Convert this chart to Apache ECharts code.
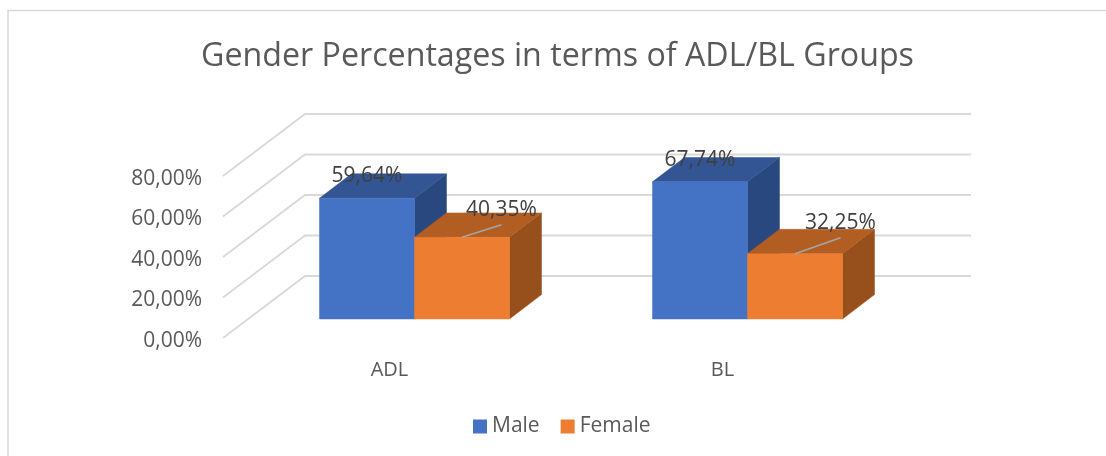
<!DOCTYPE html>
<html>
<head>
<meta charset="utf-8">
<style>html,body{margin:0;padding:0;background:#fff}#c{width:1106px;height:456px}</style>
<script src="https://cdn.jsdelivr.net/npm/echarts@6/dist/echarts.min.js"></script>
</head>
<body>
<div id="c"></div>
<script>
const categories = ['ADL', 'BL'];
const male = [59.64, 67.74];
const female = [40.35, 32.25];
const yTicks = [0, 20, 40, 60, 80];

const FONT = '"Open Sans", sans-serif';
const WALL = [82, -62];       // front plane to back wall
const FLOOR = [25, -19];      // front plane to the bars' front faces
const DEPTH = [32, -24.4];    // bar depth
const BAR_W = 95;
const MALE_COL = { front: '#4472c4', top: '#335593', side: '#2a4880' };
const FEMALE_COL = { front: '#ed7d31', top: '#b25d22', side: '#97501c' };
// manual label placement (relative to centre of the bar's top front edge)
const maleNudge = [[0, -22.5], [0, -22]];
const femaleNudge = [[39.5, -27.5], [45.5, -31]];

const fmt = v => v.toFixed(2).replace('.', ',') + '%';
const poly = (pts, fill) => ({ type: 'polygon', shape: { points: pts }, style: { fill: fill, stroke: fill, lineWidth: 0.5 }, silent: true });

function barRenderer(col, side, nudge, leader) {
  return function (params, api) {
    const cat = api.value(0), val = api.value(1);
    const base = api.coord([cat, 0]);
    const top = api.coord([cat, val]);
    const x0 = base[0] + FLOOR[0] + (side < 0 ? -BAR_W : 0);
    const x1 = x0 + BAR_W;
    const yb = base[1] + FLOOR[1];
    const yt = top[1] + FLOOR[1];
    const dx = DEPTH[0], dy = DEPTH[1];
    const cx = (x0 + x1) / 2;
    const n = nudge[params.dataIndex];
    const lx = cx + n[0], ly = yt + n[1];
    const children = [
      poly([[x1, yb], [x1 + dx, yb + dy], [x1 + dx, yt + dy], [x1, yt]], col.side),
      poly([[x0, yt], [x0 + dx, yt + dy], [x1 + dx, yt + dy], [x1, yt]], col.top),
      poly([[x0, yb], [x1, yb], [x1, yt], [x0, yt]], col.front)
    ];
    if (leader) {
      children.push({
        type: 'line', silent: true,
        shape: { x1: cx, y1: yt, x2: lx, y2: ly + 15 },
        style: { stroke: '#a6a6a6', lineWidth: 1.5 }
      });
    }
    children.push({
      type: 'text', silent: true,
      style: { x: lx, y: ly, text: fmt(val), fill: '#404040', font: '21px ' + FONT, align: 'center', verticalAlign: 'middle' }
    });
    return { type: 'group', children: children };
  };
}

function gridRenderer(params, api) {
  const c = params.coordSys;
  const y = api.coord([0, api.value(1)])[1];
  return {
    type: 'polyline', silent: true,
    shape: { points: [[c.x, y], [c.x + WALL[0], y + WALL[1]], [c.x + c.width + WALL[0], y + WALL[1]]] },
    style: { fill: 'none', stroke: '#d9d9d9', lineWidth: 1.8 }
  };
}

const chart = echarts.init(document.getElementById('c'), null, { renderer: 'canvas' });
chart.setOption({
  animation: false,
  backgroundColor: '#ffffff',
  title: {
    text: 'Gender Percentages in terms of ADL/BL Groups',
    left: 552.5, top: 36, textAlign: 'center',
    textStyle: { fontFamily: FONT, fontSize: 32.2, fontWeight: 'normal', color: '#595959' }
  },
  legend: {
    left: 468, top: 411,
    data: ['Male', 'Female'],
    icon: 'rect', itemWidth: 14, itemHeight: 14, itemGap: 21,
    textStyle: { fontFamily: FONT, fontSize: 21, color: '#595959' }
  },
  grid: { left: 223, right: 217, top: 176, bottom: 118, containLabel: false },
  xAxis: {
    type: 'category', data: categories,
    axisLine: { show: false }, axisTick: { show: false }, splitLine: { show: false },
    axisLabel: { margin: 22, fontFamily: FONT, fontSize: 20, color: '#595959' }
  },
  yAxis: {
    type: 'value', min: 0, max: 80, interval: 20,
    axisLine: { show: false }, axisTick: { show: false }, splitLine: { show: false },
    axisLabel: {
      margin: 21,
      formatter: v => '{a|' + v.toFixed(2).replace('.', ',') + '%}',
      rich: { a: { fontFamily: FONT, fontSize: 21, color: '#595959', padding: [6, 0, 0, 0] } }
    }
  },
  graphic: [{
    type: 'polyline', silent: true, z: -1,
    shape: { points: [[8, 456], [8, 10.5], [1106, 10.5]] },
    style: { fill: 'none', stroke: '#d9d9d9', lineWidth: 1.6 }
  }],
  series: [
    {
      type: 'custom', name: 'walls', silent: true, z: 1,
      renderItem: gridRenderer, clip: false,
      data: yTicks.map(t => [0, t])
    },
    {
      type: 'custom', name: 'Male', z: 2, clip: false,
      itemStyle: { color: MALE_COL.front },
      renderItem: barRenderer(MALE_COL, -1, maleNudge, false),
      data: male.map((v, i) => [i, v])
    },
    {
      type: 'custom', name: 'Female', z: 3, clip: false,
      itemStyle: { color: FEMALE_COL.front },
      renderItem: barRenderer(FEMALE_COL, 1, femaleNudge, true),
      data: female.map((v, i) => [i, v])
    }
  ]
});
</script>
</body>
</html>
